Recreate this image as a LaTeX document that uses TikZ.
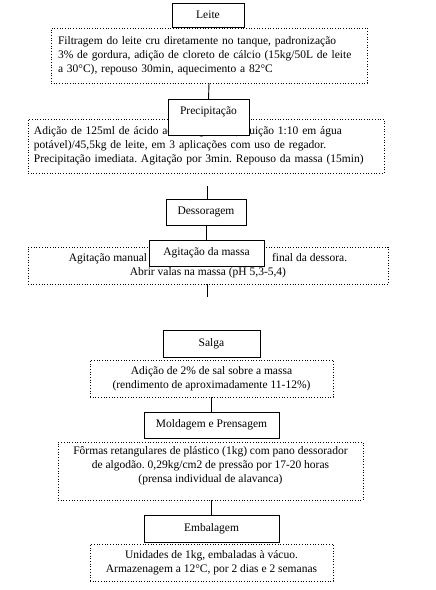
\documentclass[tikz,border=0pt]{standalone}
\usepackage{fontspec}
\setmainfont{Liberation Serif}
\frenchspacing
\begin{document}
\begin{tikzpicture}[x=1pt,y=-1pt,
  font=\fontsize{11.5}{14}\selectfont,
  stepbox/.style={draw,line width=0.9pt,fill=white,inner sep=0pt},
  infobox/.style={draw,dotted,line width=0.7pt,inner sep=0pt},
  link/.style={line width=0.9pt}]
\useasboundingbox (0,0) rectangle (436,590);
% Leite
\node[infobox,minimum width=316pt,minimum height=55pt,text width=302pt,align=left] (t1) at (209,55.5)
 {Filtragem do leite cru diretamente no tanque, padronização\\3\% de gordura, adição de cloreto de cálcio (15kg/50L de leite\\a 30\textdegree C), repouso 30min, aquecimento a 82\textdegree C};
\node[stepbox,minimum width=72pt,minimum height=24pt] (s1) at (208,15) {Leite};
% Precipitacao
\node[infobox,minimum width=356pt,minimum height=54pt,text width=344pt,align=left] (t2) at (206,146)
 {Adição de 125ml de ácido acético glacial (diluição 1:10 em água\\potável)/45,5kg de leite, em 3 aplicações com uso de regador.\\Precipitação imediata. Agitação por 3min. Repouso da massa (15min)};
\node[stepbox,minimum width=81pt,minimum height=36pt,anchor=north] (s2) at (208.5,99) {};
\node (s2l) at (208.5,112) {Precipitação};
% Dessoragem
\node[stepbox,minimum width=80pt,minimum height=26pt] (s3) at (206,212) {Dessoragem};
\node[infobox,minimum width=360pt,minimum height=37pt,align=center] (t3) at (208,265.5)
 {Agitação manual\hspace{125pt}final da dessora.\\Abrir valas na massa (pH 5,3-5,4)};
\node[stepbox,minimum width=115pt,minimum height=26pt] (s4) at (206.5,253) {Agitação da massa};
\coordinate (c2) at (207,186);
\coordinate (c3) at (207,297);
% Salga
\node[stepbox,minimum width=97pt,minimum height=27pt] (s5) at (211.5,343.5) {Salga};
\node[infobox,minimum width=243pt,minimum height=37pt,align=center] (t5) at (211.5,378.5)
 {Adição de 2\% de sal sobre a massa\\(rendimento de aproximadamente 11-12\%)};
% Moldagem
\node[stepbox,minimum width=135pt,minimum height=26pt] (s6) at (211.5,425) {Moldagem e Prensagem};
\node[infobox,minimum width=305pt,minimum height=58pt,align=center] (t6) at (210.5,471)
 {Fôrmas retangulares de plástico (1kg) com pano dessorador\\de algodão. 0,29kg/cm2 de pressão por 17-20 horas\\(prensa individual de alavanca)\\\mbox{}};
% Embalagem
\node[stepbox,minimum width=135pt,minimum height=27pt] (s7) at (211.5,528.5) {Embalagem};
\node[infobox,minimum width=243pt,minimum height=37pt,align=center] (t7) at (211.5,562.5)
 {Unidades de 1kg, embaladas à vácuo.\\Armazenagem a 12\textdegree C, por 2 dias e 2 semanas};
% connectors
\draw[link] (t1.south) -- (s2.north);
\draw[link] (c2) -- (c2 |- s3.north);
\draw[link] (s3.south) -- (s3.south |- s4.north);
\draw[link] (t3.south -| c3) -- (c3);
\draw[link] (t5.south) -- (t5.south |- s6.north);
\draw[link] (t6.south -| s6.south) -- (s7.north);
\end{tikzpicture}
\end{document}
